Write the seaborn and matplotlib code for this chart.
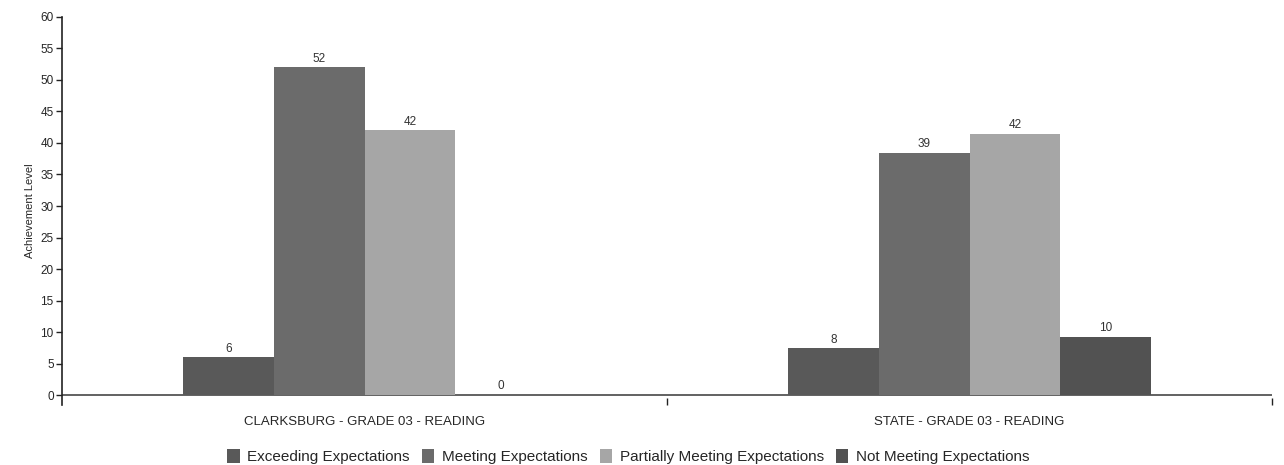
import numpy as np
import pandas as pd
import matplotlib
matplotlib.use('Agg')
import matplotlib.pyplot as plt
import seaborn as sns

# values
groups = ['CLARKSBURG - GRADE 03 - READING', 'STATE - GRADE 03 - READING']
levels = ['Exceeding Expectations', 'Meeting Expectations',
          'Partially Meeting Expectations', 'Not Meeting Expectations']
clarksburg = [6, 52, 42, 0]
state = [7.4, 38.4, 41.4, 9.2]
clarksburg_labels = ['6', '52', '42', '0']
state_labels = ['8', '39', '42', '10']
yticks = list(range(0, 61, 5))

colors = ['#595959', '#6b6b6b', '#a6a6a6', '#525252']

df = pd.DataFrame({
    'group': [groups[0]] * 4 + [groups[1]] * 4,
    'level': levels + levels,
    'value': clarksburg + state,
})

sns.set_style('white')
plt.rcParams['font.family'] = ['Liberation Sans', 'DejaVu Sans']

fig = plt.figure(figsize=(12.84, 4.65), dpi=100)
ax = fig.add_axes([0.0483, 0.130, 0.9424, 0.8336])

sns.barplot(data=df, x='group', y='value', hue='level', hue_order=levels,
            palette=colors, width=0.6, gap=0, saturation=1, ax=ax,
            edgecolor='none', legend=True)

# value labels
for i, cont in enumerate(ax.containers):
    labs = [clarksburg_labels[i], state_labels[i]]
    ax.bar_label(cont, labels=labs, padding=2, fontsize=8.5, color='#333333')

ax.set_ylim(-1.5, 60)
ax.set_xlim(-0.5, 1.5)
ax.set_yticks(yticks)
ax.tick_params(axis='y', left=True, labelsize=8.5, length=4, width=1,
               color='#222222', direction='out', pad=2)
ax.tick_params(axis='x', which='major', length=0, labelsize=9.5, pad=8)
ax.set_xticks([0.5, 1.5], minor=True)
ax.tick_params(axis='x', which='minor', bottom=True, length=5, width=1,
               color='#222222', direction='in')
ax.set_xlabel('')
ax.set_ylabel('Achievement Level', fontsize=8, labelpad=4)

for s in ['top', 'right', 'bottom']:
    ax.spines[s].set_visible(False)
ax.spines['left'].set_color('#222222')
ax.spines['left'].set_linewidth(1.2)
ax.axhline(0, color='#555555', lw=1.3, zorder=0)

leg = ax.legend(loc='upper center', bbox_to_anchor=(0.468, -0.08), ncol=4,
                frameon=False, fontsize=11, handlelength=0.8,
                handleheight=1.0, handletextpad=0.5, columnspacing=0.8)

fig.savefig('out.png', dpi=100)
